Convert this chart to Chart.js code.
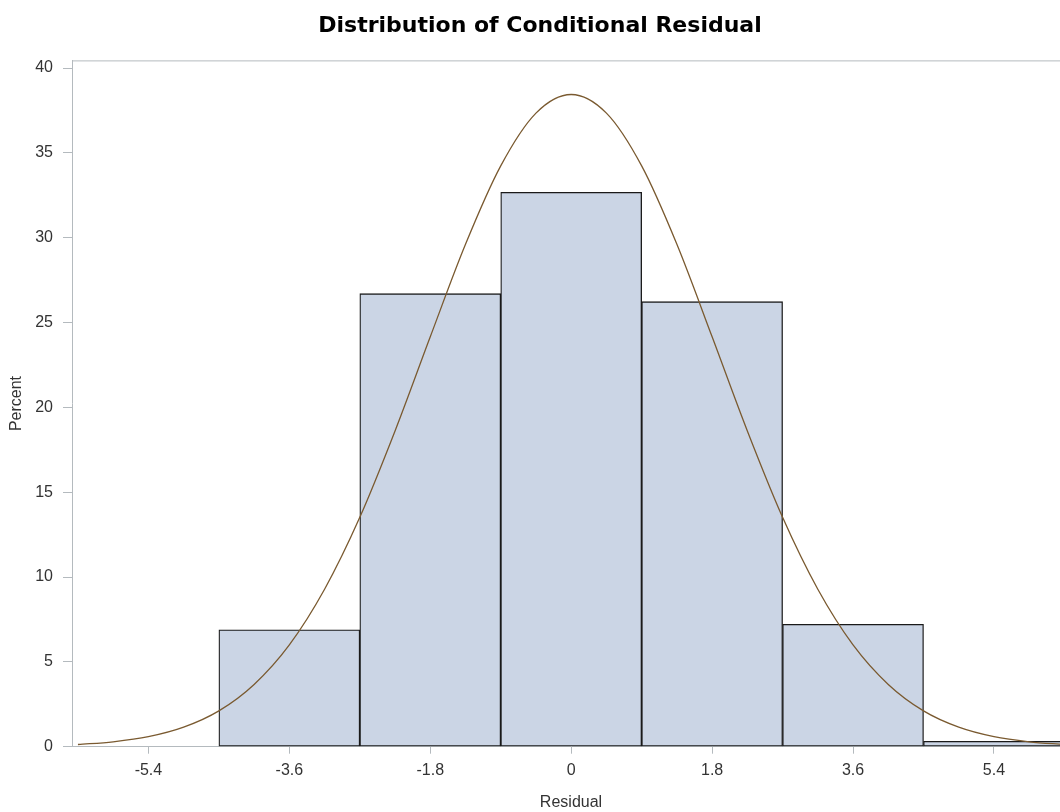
<!DOCTYPE html>
<html>
<head>
<meta charset="utf-8">
<script src="https://cdn.jsdelivr.net/npm/chart.js@4"></script>
<style>
  html, body { margin: 0; padding: 0; background: #fff; overflow: hidden; }
  #wrap { width: 1080px; height: 812px; }
</style>
</head>
<body>
<div id="wrap"><canvas id="grafico" width="1080" height="812"></canvas></div>
<script>
// histogram bins (midpoints) and percent per bin
const binMids = [-3.6, -1.8, 0, 1.8, 3.6, 5.4];
const binPercent = [6.89, 26.7, 32.67, 26.23, 7.21, 0.32];

// fitted normal curve
const curveX = [-6.3, -5.85, -5.4, -4.95, -4.5, -4.05, -3.6, -3.15, -2.7, -2.25, -1.8, -1.35, -0.9, -0.45,
  0, 0.45, 0.9, 1.35, 1.8, 2.25, 2.7, 3.15, 3.6, 4.05, 4.5, 4.95, 5.4, 5.85, 6.3];
const curveY = [0.13, 0.29, 0.59, 1.15, 2.11, 3.67, 6.0, 9.28, 13.52, 18.61, 24.16, 29.61, 34.23, 37.34,
  38.44, 37.34, 34.23, 29.61, 24.16, 18.61, 13.52, 9.28, 6.0, 3.67, 2.11, 1.15, 0.59, 0.29, 0.13];

const xTicks = [-5.4, -3.6, -1.8, 0, 1.8, 3.6, 5.4];
const yTicks = [0, 5, 10, 15, 20, 25, 30, 35, 40];

const axisGray = "#b4babe";
const textGray = "#333";
const tickFont = { family: "Liberation Sans, Arial, sans-serif", size: 16 };

// top frame line of the plot area
const frameTop = {
  id: "frameTop",
  afterDraw(chart) {
    const { ctx, chartArea } = chart;
    ctx.save();
    ctx.strokeStyle = axisGray;
    ctx.lineWidth = 1;
    ctx.beginPath();
    ctx.moveTo(chartArea.left, chartArea.top + 0.5);
    ctx.lineTo(chartArea.right, chartArea.top + 0.5);
    ctx.stroke();
    ctx.restore();
  }
};

const ctx = document.getElementById("grafico").getContext("2d");
new Chart(ctx, {
  data: {
    datasets: [
      {
        type: "line",
        order: 0,
        data: curveX.map((x, i) => ({ x: x, y: curveY[i] })),
        borderColor: "#7a5a30",
        borderWidth: 1.3,
        pointRadius: 0,
        cubicInterpolationMode: "monotone",
        fill: false
      },
      {
        type: "bar",
        order: 1,
        data: binMids.map((x, i) => ({ x: x, y: binPercent[i] })),
        backgroundColor: "#cbd5e5",
        borderColor: "#1a1a1a",
        borderWidth: 1.3,
        borderSkipped: false,
        barPercentage: 1,
        categoryPercentage: 1,
        grouped: false
      }
    ]
  },
  options: {
    responsive: false,
    animation: false,
    layout: { padding: { left: 10, right: 10, top: 0, bottom: 0 } },
    plugins: {
      legend: { display: false },
      tooltip: { enabled: false },
      title: {
        display: true,
        text: "Distribution of Conditional Residual",
        color: "#000",
        font: { family: "DejaVu Sans, sans-serif", size: 22, weight: "bold" },
        padding: { top: 13, bottom: 21 }
      }
    },
    scales: {
      x: {
        type: "linear",
        min: -6.376,
        max: 6.371,
        offset: false,
        afterBuildTicks: s => { s.ticks = xTicks.map(v => ({ value: v })); },
        afterFit: s => { s.height = 65.3; },
        ticks: {
          color: textGray,
          font: tickFont,
          padding: 7,
          maxRotation: 0,
          callback: v => String(v)
        },
        grid: { offset: false, drawOnChartArea: false, drawTicks: true, tickLength: 7, color: axisGray },
        border: { color: axisGray, width: 1 },
        title: {
          display: true,
          text: "Residual",
          color: textGray,
          font: tickFont,
          padding: { top: 0, bottom: 0 }
        }
      },
      y: {
        type: "linear",
        min: 0,
        max: 40.45,
        afterBuildTicks: s => { s.ticks = yTicks.map(v => ({ value: v })); },
        afterFit: s => { s.width = 62; },
        ticks: { color: textGray, font: tickFont, padding: 10 },
        grid: { drawOnChartArea: false, drawTicks: true, tickLength: 9, color: axisGray },
        border: { color: axisGray, width: 1 },
        title: {
          display: true,
          text: "Percent",
          color: textGray,
          font: { family: "Liberation Sans, Arial, sans-serif", size: 16, lineHeight: 1 },
          padding: { top: -1, bottom: 0 }
        }
      }
    }
  },
  plugins: [frameTop]
});
</script>
</body>
</html>
